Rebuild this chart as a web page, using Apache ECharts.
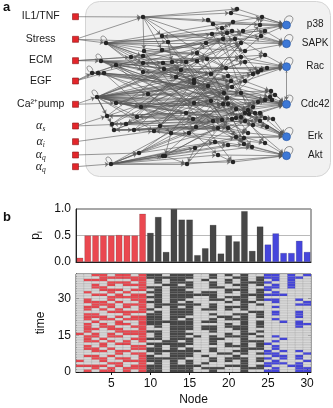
<!DOCTYPE html>
<html>
<head>
<meta charset="utf-8">
<script src="https://cdn.jsdelivr.net/npm/echarts@6/dist/echarts.min.js"></script>
<style>
html, body { margin: 0; padding: 0; background: #fff; }
#main { width: 333px; height: 408px; }
</style>
</head>
<body>
<div id="main"></div>
<script>
// ---- panel b data ----
var nodes = [];
for (var n = 1; n <= 30; n++) nodes.push(n);

// p_i per node (bar heights)
var pi = [0.08, 0.5, 0.5, 0.5, 0.5, 0.51, 0.5, 0.5, 0.91, 0.55,
          0.85, 0.19, 1.0, 0.8, 0.8, 0.13, 0.26, 0.7, 0.16, 0.5,
          0.39, 0.96, 0.21, 0.67, 0.33, 0.54, 0.17, 0.17, 0.4, 0.19];

// 'in' = input nodes (red), 'mid' = internal (dark), 'out' = outputs (blue)
var nodeKind = ['in','in','in','in','in','in','in','in','in',
                'mid','mid','mid','mid','mid','mid','mid','mid','mid','mid','mid','mid','mid','mid','mid',
                'out','out','out','out','out','out'];

// on/off state of each node, one string per node, time 39 (first char) down to 0 (last char)
var activity = [
  '0000000000000000000000001000000000010100',
  '0010000100110110111011110111011001000101',
  '1010110010011100110100101101001101100110',
  '1110011010011010011011000010110100110101',
  '0101101101101101001001101101001001001011',
  '1101001011010011010110110100100110101100',
  '1101100101001101101010011001100100110011',
  '0110101011101001011001011010011010010110',
  '1111111011111111011111111111011011111111',
  '1100010101010010111110010010101101110111',
  '1111011111111101111111011110111110111111',
  '0100100000001000000100000001100100100000',
  '1111111111111111111111111111111111111111',
  '1111011111101011110111111110110111100111',
  '1101110111011111101111101011101111011111',
  '0000000010001000000000000100000100000100',
  '0010000110000010000101100000000001001010',
  '1101110111101110101101110111101100110011',
  '0000010000100000010000000010000010000010',
  '1011001101010110011011001100110010110100',
  '0100101001100100101001100100010101100100',
  '1111111111111110111111111111111110111111',
  '0001000010010001000000001001001000000010',
  '0111101111101001110111010101111010110110',
  '1101011010100000000000000000100110101101',
  '1110110110110101101000000101011011011011',
  '0000000010000000000100000010000101101000',
  '1111110000000000000000000000000000000100',
  '0100000000101001110111000000000101101111',
  '1000000000011000000010000000000010010011'
];

var xTicks = [5, 10, 15, 20, 25, 30];
var timeTicks = [0, 15, 30];
var piTicks = [0, 0.5, 1.0];

// ---- panel a data ----
var inputLabels = ['IL1/TNF', 'Stress', 'ECM', 'EGF', 'Ca\u00b2\u207apump',
                   '{g|\u03b1}{s|s}', '{g|\u03b1}{s|i}', '{g|\u03b1}{s|q}', '{g|\u03b1}{s|q}'];
var inputY = [16.7, 39.3, 60.7, 81, 104.3, 126, 141.7, 155, 166.7];
var outputLabels = ['p38', 'SAPK', 'Rac', 'Cdc42', 'Erk', 'Akt'];
var outputY = [25, 43.7, 66.7, 104.3, 136.7, 155.7];

// positions of the internal network nodes
var hiddenXY = [
  [143,17],[106,43],[162,36],[168,42],[144,51],[162,50],[101,61],[131,57],[143,56],[143,63],
  [116,65],[163,63],[92,73],[98,73],[104,73],[143,72],[164,69],[97,97],[148,94],[116,103],
  [141,107],[107,116],[137,117],[112,124],[126,124],[114,130],[134,130],[154,131],[160,126],[139,153],
  [163,156],[111,164],[237,9],[231,13],[208,20],[213,24],[233,22],[222,28],[232,31],[243,31],
  [212,34],[227,33],[206,43],[223,39],[235,39],[241,43],[197,53],[207,59],[197,61],[245,51],
  [241,57],[245,62],[186,62],[172,62],[181,70],[226,68],[211,74],[228,76],[253,74],[176,77],
  [194,80],[194,83],[231,81],[245,81],[208,86],[232,87],[224,93],[241,93],[227,98],[211,101],
  [194,103],[223,104],[228,104],[253,107],[236,109],[186,113],[241,117],[245,113],[249,114],[232,119],
  [236,118],[245,121],[193,119],[213,121],[222,120],[196,127],[218,128],[228,128],[171,133],[189,133],
  [248,133],[215,142],[236,137],[244,138],[228,145],[244,144],[195,148],[218,155],[233,162],[187,164],
  [165,156],[262,17],[260,25],[265,31],[261,36],[265,55],[261,70],[258,72],[267,68],[265,100],
  [270,97],[272,100],[258,102],[248,110],[255,113],[260,113],[265,118],[260,121],[253,125],[267,127],
  [273,119],[252,147],[265,143],[271,91],[275,95]
];

// nodes that feed back on themselves
var selfLoopsOut = [0, 1, 2, 3, 4, 5];
var selfLoopsHidden = [1, 6, 12, 17, 31];

// edges: numbers are internal nodes, 'iN' inputs, 'oN' outputs
var links = [
  ['i0',0],['i1',1],['i1',3],['i1',0],['i2',6],['i2',7],['i2',46],['i3',12],['i3',14],['i3',10],
  ['i4',17],['i4',19],['i5',21],['i5',24],['i6',27],['i7',29],['i8',31],
  [17,18],[17,20],[17,22],[17,43],[17,47],[17,55],[17,57],[17,60],[17,62],[17,64],[17,66],[17,69],
  [17,71],[17,74],[17,79],[17,84],[17,63],[17,58],[17,86],[17,27],[17,116],[17,119],[17,109],
  [31,29],[31,30],[31,97],[31,98],[31,99],[31,100],[31,94],[31,96],[31,121],[31,93],[31,91],
  [1,8],[1,9],[1,15],[1,38],[1,41],[1,45],[1,49],[1,51],[1,52],[1,44],[1,101],
  [6,11],[6,16],[6,50],[6,54],[6,56],[6,65],[6,67],[6,72],[6,106],
  [0,4],[0,5],[0,32],[0,33],[0,34],[0,102],
  [101,'o0'],[102,'o0'],[32,'o0'],[33,'o0'],[36,'o0'],[39,'o0'],[104,'o0'],[35,'o0'],[5,'o0'],
  [103,'o1'],[104,'o1'],[41,'o1'],[44,'o1'],[45,'o1'],[37,'o1'],[49,'o1'],
  [105,'o2'],[106,'o2'],[107,'o2'],[108,'o2'],[50,'o2'],[51,'o2'],[55,'o2'],[58,'o2'],[63,'o2'],[57,'o2'],
  [109,'o3'],[110,'o3'],[111,'o3'],[112,'o3'],[73,'o3'],[113,'o3'],[114,'o3'],[115,'o3'],[123,'o3'],
  [124,'o3'],[66,'o3'],[67,'o3'],[68,'o3'],[71,'o3'],
  [116,'o4'],[117,'o4'],[118,'o4'],[119,'o4'],[120,'o4'],[90,'o4'],[92,'o4'],[93,'o4'],[76,'o4'],[77,'o4'],[78,'o4'],
  [121,'o5'],[122,'o5'],[95,'o5'],[98,'o5'],[97,'o5'],[94,'o5'],[81,'o5'],[99,'o5'],
  [7,42],[8,43],[9,47],[10,52],[11,56],[12,59],[13,60],[14,61],[15,62],[16,64],[18,68],[19,70],[20,71],
  [21,75],[22,79],[23,82],[24,83],[25,85],[26,86],[27,87],[28,90],[29,91],[30,92],[2,37],[3,40],[4,46],[5,48],
  [12,109],[13,110],[14,111],[21,113],[23,115],[24,117],[25,118],[19,73],[20,112],[22,114],[2,103],[9,105],
  [16,108],[18,123],[26,122],[27,121],[28,120],[29,81],[30,95],[4,104],[15,107],[11,124],
  [44,2],[55,15],[66,20],[74,22],[84,26],[92,27],[79,19],[62,10],[48,7],[57,9],[83,21],[87,23],[86,25],
  [32,33],[34,35],[36,37],[38,39],[40,41],[42,43],[46,47],[52,53],[54,59],[60,61],[64,65],[69,70],[72,74],
  [75,82],[85,89],[88,89],[96,99],[97,98],[91,94],[100,99],[82,84],[53,54],[47,55],[61,65],[70,71],[80,81],
  [76,80],[77,78],[113,114],[115,116],[101,102],[103,104],[106,107],[109,110],[111,112],
  [12,13],[13,14],[17,21],[17,23],[17,25],[19,20],[22,24],[25,26],[0,2],[3,53],[88,100],
  [1,73],[1,109],[1,87],[6,90],[6,113],[6,119],[7,95],[8,81],[9,116],[10,93],[11,117],[12,67],[13,76],
  [14,88],[15,118],[16,110],[18,105],[19,58],[20,45],[21,57],[22,63],[23,50],[24,41],[25,65],[26,39],
  [27,102],[28,104],[29,72],[30,106],[31,112],[31,71],[31,84],[17,103],[17,45],[17,90],[17,122],
  [0,49],[0,55],[2,72],[3,92],[4,98],[5,123],[12,38],[13,44],[14,121],[10,97],[21,36],[23,101],
  [25,108],[19,51],[20,67],[22,42],[24,57],[26,66],[27,64],[28,60],[29,69],[30,86],[53,92],[59,113],
  [60,119],[61,95],[52,87],[54,114],[46,81],[48,90],[42,73],[40,63],[35,58],[34,105],[88,45],[89,62],
  [99,74],[96,115],[100,109],[85,110],[82,124],[75,106],[70,123],[69,120],[56,122],[47,95],[64,121],
  [57,117],[43,118],[37,107]
];

var kindColor = { 'in': '#ea4850', 'mid': '#474747', 'out': '#4646dc' };
var offColor = '#d8d8d8';
var edgeColor = '#585858';
var font = 'Liberation Sans, Arial, sans-serif';

// ---- build graph ----
var graphNodes = [];
inputLabels.forEach(function (lab, i) {
  graphNodes.push({
    id: 'i' + i, name: 'i' + i, value: [75.5, inputY[i]],
    symbol: 'rect', symbolSize: 6,
    itemStyle: { color: '#e3262b', borderColor: '#8a1414', borderWidth: 0.6 },
    label: {
      show: true, formatter: lab, position: [-31.5, 3], align: 'center', verticalAlign: 'middle',
      fontFamily: font, fontSize: 10.5, color: '#1a1a1a',
      rich: {
        g: { fontFamily: 'Liberation Serif, serif', fontStyle: 'italic', fontSize: 12, color: '#1a1a1a' },
        s: { fontFamily: 'Liberation Serif, serif', fontStyle: 'italic', fontSize: 7.5, color: '#1a1a1a', verticalAlign: 'bottom', lineHeight: 15 }
      }
    }
  });
});
outputLabels.forEach(function (lab, i) {
  graphNodes.push({
    id: 'o' + i, name: 'o' + i, value: [286.5, outputY[i]],
    symbol: 'circle', symbolSize: 8,
    itemStyle: { color: '#3d78d6', borderColor: '#24509a', borderWidth: 0.6 },
    label: {
      show: true, formatter: lab, position: [33, 4], align: 'center', verticalAlign: 'middle',
      fontFamily: font, fontSize: 10, color: '#1a1a1a'
    }
  });
});
hiddenXY.forEach(function (p, i) {
  graphNodes.push({
    id: 'h' + i, name: 'h' + i, value: p,
    symbol: 'circle', symbolSize: 4.5,
    itemStyle: { color: '#262626' }, label: { show: false }
  });
});

function nodeId(v) { return typeof v === 'number' ? 'h' + v : v; }
var graphLinks = links.map(function (l) {
  return { source: nodeId(l[0]), target: nodeId(l[1]) };
});
graphLinks.push({ source: 'o2', target: 'o3', symbol: ['arrow', 'arrow'] });

// loop data: [x, y, side] side 1 = loop to upper right, -1 = upper left
var loopData = [];
selfLoopsOut.forEach(function (i) { loopData.push([286.5, outputY[i], 1]); });
selfLoopsHidden.forEach(function (i) { loopData.push([hiddenXY[i][0], hiddenXY[i][1], -1]); });

// ---- build heatmap cells ----
var cells = [];
activity.forEach(function (str, c) {
  for (var r = 0; r < str.length; r++) {
    cells.push([c + 1, str.length - 1 - r, str.charAt(r) === '1' ? 1 : 0, c]);
  }
});

var barData = pi.map(function (v, i) {
  return { value: v, itemStyle: { color: kindColor[nodeKind[i]] } };
});

var myChart = echarts.init(document.getElementById('main'));

var option = {
  animation: false,
  textStyle: { fontFamily: font },
  graphic: [
    { type: 'rect', z: -1, shape: { x: 85.5, y: 1.5, width: 245, height: 175, r: 14 },
      style: { fill: '#f1f1f1', stroke: '#d4d4d4', lineWidth: 1 } },
    { type: 'text', left: 3, top: 1, style: { text: 'a', font: 'bold 13px Liberation Sans, Arial', fill: '#111' } },
    { type: 'text', left: 3, top: 211, style: { text: 'b', font: 'bold 13px Liberation Sans, Arial', fill: '#111' } }
  ],
  grid: [
    { left: 0, top: 0, width: 333, height: 408 },
    { left: 76, top: 209, width: 235, height: 53, show: true, borderColor: '#222', borderWidth: 0.8, backgroundColor: 'transparent' },
    { left: 76, top: 274, width: 235, height: 98, show: true, borderColor: '#222', borderWidth: 0.8, backgroundColor: 'transparent' }
  ],
  xAxis: [
    { gridIndex: 0, type: 'value', min: 0, max: 333, show: false },
    { gridIndex: 1, type: 'category', data: nodes, axisLabel: { show: false }, axisTick: { show: false },
      axisLine: { lineStyle: { color: '#222' } } },
    { gridIndex: 2, type: 'value', min: 0.5, max: 30.5, splitLine: { show: false },
      axisLine: { lineStyle: { color: '#222' } },
      axisTick: { inside: true, length: 3, customValues: xTicks, lineStyle: { color: '#111' } },
      axisLabel: { customValues: xTicks, fontSize: 12, color: '#111', margin: 6 },
      name: 'Node', nameLocation: 'middle', nameGap: 22, nameTextStyle: { fontSize: 12, color: '#111' } },
    { gridIndex: 2, type: 'value', position: 'top', min: 0.5, max: 30.5, splitLine: { show: false },
      axisLine: { show: false },
      axisTick: { inside: true, length: 3, customValues: xTicks, lineStyle: { color: '#111' } },
      axisLabel: { show: false } }
  ],
  yAxis: [
    { gridIndex: 0, type: 'value', min: 0, max: 408, inverse: true, show: false },
    { gridIndex: 1, type: 'value', min: 0, max: 1, interval: 0.5,
      axisLine: { show: true, lineStyle: { color: '#222' } }, axisTick: { show: false },
      splitLine: { lineStyle: { color: '#a8a8a8', width: 0.8 } },
      axisLabel: { customValues: piTicks, formatter: function (v) { return v.toFixed(1); }, fontSize: 12, color: '#111', margin: 5 },
      name: '{p|p}{i|i}', nameLocation: 'middle', nameGap: 27,
      nameTextStyle: { rich: {
        p: { fontSize: 12, color: '#111' },
        i: { fontSize: 8, color: '#111', verticalAlign: 'bottom', lineHeight: 15 } } } },
    { gridIndex: 2, type: 'value', min: 0, max: 40, splitLine: { show: false },
      axisLine: { show: true, lineStyle: { color: '#222' } },
      axisTick: { show: true, inside: true, length: 3, customValues: timeTicks, lineStyle: { color: '#111' } },
      axisLabel: { customValues: timeTicks, fontSize: 12, color: '#111', margin: 5 },
      name: 'time', nameLocation: 'middle', nameGap: 26, nameTextStyle: { fontSize: 12, color: '#111' } },
    { gridIndex: 2, type: 'value', position: 'right', min: 0, max: 40, splitLine: { show: false },
      axisLine: { show: false },
      axisTick: { show: true, inside: true, length: 3, customValues: timeTicks, lineStyle: { color: '#111' } },
      axisLabel: { show: false } }
  ],
  series: [
    {
      type: 'graph', coordinateSystem: 'cartesian2d', xAxisIndex: 0, yAxisIndex: 0,
      data: graphNodes, links: graphLinks,
      edgeSymbol: ['none', 'arrow'], edgeSymbolSize: [2, 4],
      lineStyle: { color: edgeColor, width: 0.75, opacity: 0.8 },
      emphasis: { disabled: true }, z: 3
    },
    {
      // self-loop curves
      type: 'custom', xAxisIndex: 0, yAxisIndex: 0, data: loopData, encode: { x: 0, y: 1 }, z: 2,
      renderItem: function (params, api) {
        var p = api.coord([api.value(0), api.value(1)]);
        var s = api.value(2);
        var shape = s > 0
          ? { x1: p[0] - 2, y1: p[1] - 3, cpx1: p[0] - 3, cpy1: p[1] - 12, cpx2: p[0] + 12, cpy2: p[1] - 11, x2: p[0] + 4, y2: p[1] - 1 }
          : { x1: p[0] + 1, y1: p[1] - 2.5, cpx1: p[0] - 1, cpy1: p[1] - 10, cpx2: p[0] - 9, cpy2: p[1] - 7, x2: p[0] - 2.5, y2: p[1] - 1 };
        return {
          type: 'bezierCurve', shape: shape,
          style: { fill: null, stroke: edgeColor, lineWidth: 0.75, opacity: 0.85 }
        };
      }
    },
    {
      type: 'bar', xAxisIndex: 1, yAxisIndex: 1, data: barData, barCategoryGap: '16%',
      itemStyle: { borderColor: 'rgba(0,0,0,0.3)', borderWidth: 0.5 }, z: 1
    },
    {
      type: 'custom', xAxisIndex: 2, yAxisIndex: 2, data: cells, encode: { x: 0, y: 1 },
      renderItem: function (params, api) {
        var x = api.value(0), t = api.value(1), on = api.value(2), c = api.value(3);
        var p0 = api.coord([x - 0.5, t + 1]);
        var p1 = api.coord([x + 0.5, t]);
        return {
          type: 'rect',
          shape: { x: p0[0], y: p0[1], width: p1[0] - p0[0], height: p1[1] - p0[1] },
          style: { fill: on ? kindColor[nodeKind[c]] : offColor, stroke: 'rgba(70,70,70,0.35)', lineWidth: 0.35 }
        };
      }
    }
  ]
};

myChart.setOption(option);
</script>
</body>
</html>
